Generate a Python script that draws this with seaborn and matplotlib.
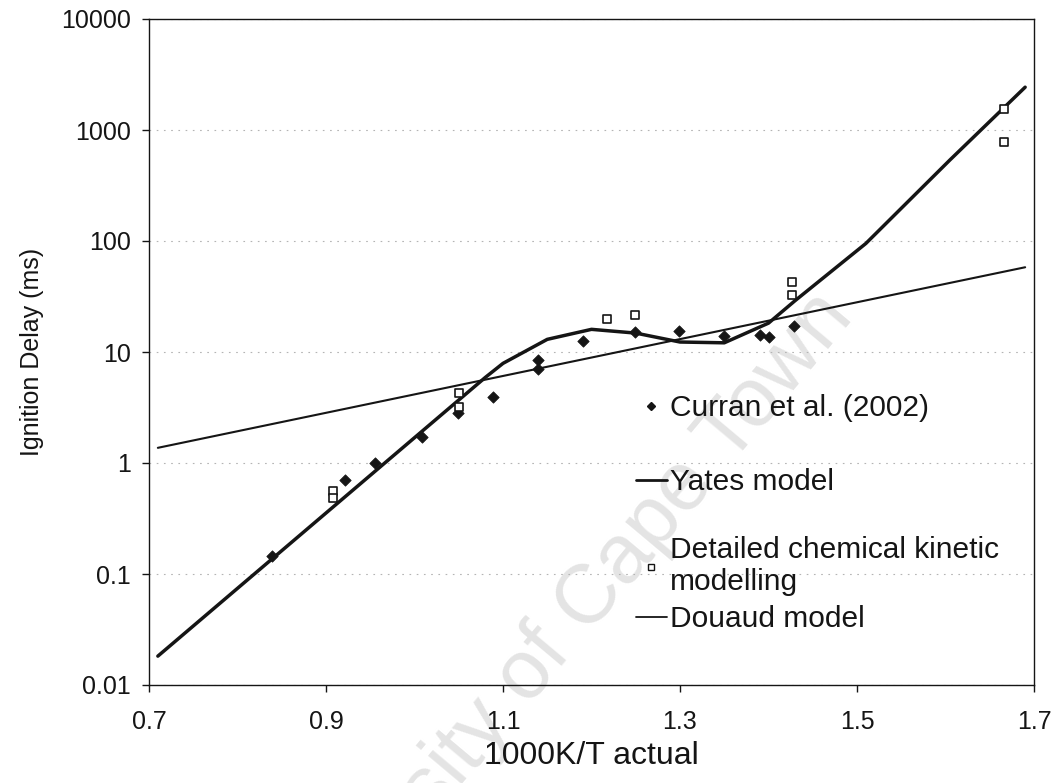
import numpy as np
import pandas as pd
import matplotlib
matplotlib.use("Agg")
import matplotlib.pyplot as plt
import seaborn as sns
from matplotlib.lines import Line2D
from matplotlib.ticker import NullLocator

# ---------------- data ----------------
curran_x = [0.839, 0.921, 0.955, 1.008, 1.049, 1.089, 1.140, 1.140, 1.190, 1.249, 1.299, 1.350, 1.390, 1.400, 1.429]
curran_y = [0.145, 0.71, 1.00, 1.70, 2.84, 3.95, 8.5, 7.1, 12.6, 15.2, 15.5, 13.9, 14.2, 13.6, 17.1]

detailed_x = [0.908, 0.908, 1.050, 1.050, 1.218, 1.249, 1.427, 1.427, 1.666, 1.666]
detailed_y = [0.56, 0.486, 4.25, 3.18, 19.7, 21.4, 42.5, 32.4, 1545, 785]

yates_x = [0.71, 1.08, 1.10, 1.15, 1.20, 1.25, 1.30, 1.35, 1.40, 1.43, 1.51, 1.605, 1.69]
yates_y = [0.0182, 5.9, 7.9, 13.0, 16.0, 14.8, 12.3, 12.1, 18.2, 29.0, 95.0, 537.0, 2430.0]

douaud_x = [0.71, 1.69]
douaud_y = [1.37, 58.0]

xtick_vals = [0.7, 0.9, 1.1, 1.3, 1.5, 1.7]
xtick_labels = ["0.7", "0.9", "1.1", "1.3", "1.5", "1.7"]
ytick_vals = [0.01, 0.1, 1, 10, 100, 1000, 10000]
ytick_labels = ["0.01", "0.1", "1", "10", "100", "1000", "10000"]

labels = ["Curran et al. (2002)", "Yates model",
          "Detailed chemical kinetic\nmodelling", "Douaud model"]

# ---------------- style ----------------
sns.set_style("ticks")
plt.rcParams["font.family"] = ["Liberation Sans", "DejaVu Sans"]
INK = "#151515"

fig = plt.figure(figsize=(10.56, 7.83), dpi=100)
ax = fig.add_axes([149 / 1056, 98 / 783, 885 / 1056, 666 / 783])

ax.set_yscale("log")

# watermark (faint text behind data)
ax.text(0.520, 0.174, "University of Cape Town", transform=fig.transFigure,
        rotation=50, rotation_mode="anchor", ha="center", va="center",
        fontsize=60, color="#e4e4e4", zorder=0.5, clip_on=False)

sns.lineplot(x=douaud_x, y=douaud_y, ax=ax, color=INK, linewidth=1.5,
             estimator=None, sort=False, zorder=2)
sns.lineplot(x=yates_x, y=yates_y, ax=ax, color=INK, linewidth=2.5,
             estimator=None, sort=False, zorder=2)
sns.scatterplot(x=curran_x, y=curran_y, ax=ax, marker="D", s=34, color=INK,
                edgecolor=INK, linewidth=0.5, zorder=3)
sns.scatterplot(x=detailed_x, y=detailed_y, ax=ax, marker="s", s=32, color="white",
                edgecolor=INK, linewidth=1.2, zorder=4)

ax.set_xlim(0.7, 1.7)
ax.set_ylim(0.01, 10000)
ax.set_xticks(xtick_vals)
ax.set_xticklabels(xtick_labels)
ax.set_yticks(ytick_vals)
ax.set_yticklabels(ytick_labels)
ax.yaxis.set_minor_locator(NullLocator())
ax.xaxis.set_minor_locator(NullLocator())

ax.yaxis.grid(True, which="major", color="#b4b4b4", linestyle=(0, (1.5, 5)), linewidth=0.8)
ax.xaxis.grid(False)

for sp in ax.spines.values():
    sp.set_visible(True)
    sp.set_color(INK)
    sp.set_linewidth(1.0)

ax.tick_params(axis="x", direction="out", length=5, width=1, colors=INK,
               labelsize=18, pad=13)
ax.tick_params(axis="y", direction="out", length=5, width=1, colors=INK,
               labelsize=18, pad=8)

ax.set_xlabel("1000K/T actual", fontsize=23, color=INK, labelpad=5)
ax.set_ylabel("Ignition Delay (ms)", fontsize=18, color=INK, labelpad=12)

# ---------------- legend (two blocks, Excel-like spacing) ----------------
h_curran = Line2D([], [], marker="D", linestyle="none", color=INK, markersize=4)
h_yates = Line2D([], [], color=INK, linewidth=2.0)
h_det = Line2D([], [], marker="s", linestyle="none", markerfacecolor="white",
               markeredgecolor=INK, markeredgewidth=1.0, markersize=5)
h_douaud = Line2D([], [], color=INK, linewidth=1.3)

common = dict(frameon=False, fontsize=21.5, handlelength=1.05, handletextpad=0.1,
              borderpad=0, borderaxespad=0, loc="upper left")
leg1 = ax.legend(handles=[h_curran, h_yates], labels=labels[:2],
                 bbox_to_anchor=(0.550, 0.437), labelspacing=1.55, **common)
for t in leg1.get_texts():
    t.set_color(INK)
ax.add_artist(leg1)
leg2 = ax.legend(handles=[h_det, h_douaud], labels=labels[2:],
                 bbox_to_anchor=(0.550, 0.224), labelspacing=0.3, **common)
for t in leg2.get_texts():
    t.set_color(INK)

fig.savefig("out.png", dpi=100, facecolor="white")
